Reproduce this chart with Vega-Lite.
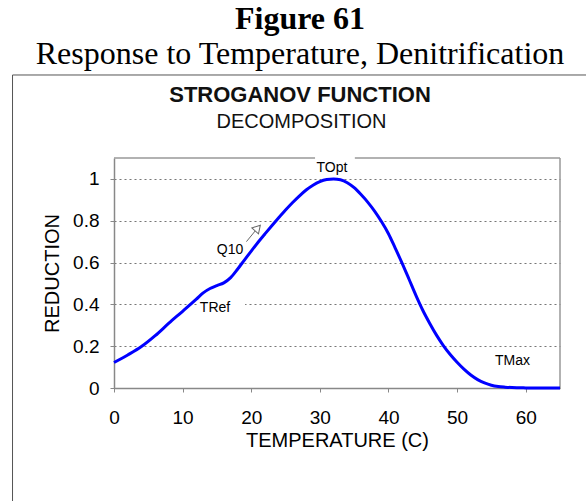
{
  "$schema": "https://vega.github.io/schema/vega-lite/v6.json",
  "width": 446,
  "height": 230,
  "autosize": {"type": "none"},
  "padding": {"left": 114, "top": 158, "right": 26, "bottom": 113},
  "background": "white",
  "config": {"view": {"stroke": null}, "font": "Liberation Sans"},
  "data": {"values": [{"one": 1}]},
  "layer": [
    {
      "mark": {"type": "rect", "fill": "white"},
      "encoding": {
        "x": {"datum": 12.3, "type": "quantitative"},
        "x2": {"datum": 19.1},
        "y": {"datum": 0.39, "type": "quantitative"},
        "y2": {"datum": 0.412}
      }
    },
    {
      "mark": {"type": "rule", "color": "#999999", "strokeWidth": 1.5},
      "encoding": {
        "x": {"datum": 0, "type": "quantitative"},
        "x2": {"datum": 29.3},
        "y": {"datum": 1.1, "type": "quantitative"}
      }
    },
    {
      "mark": {"type": "rule", "color": "#999999", "strokeWidth": 1.5},
      "encoding": {
        "x": {"datum": 35.1, "type": "quantitative"},
        "x2": {"datum": 65},
        "y": {"datum": 1.1, "type": "quantitative"}
      }
    },
    {
      "mark": {"type": "rule", "color": "#999999", "strokeWidth": 1.5},
      "encoding": {
        "x": {"datum": 65, "type": "quantitative"},
        "y": {"datum": 0, "type": "quantitative"},
        "y2": {"datum": 1.1}
      }
    },
    {
      "data": {"values": [
        {"T": 0, "R": 0.122}, {"T": 2, "R": 0.158}, {"T": 4, "R": 0.198},
        {"T": 6, "R": 0.25}, {"T": 8, "R": 0.31}, {"T": 10, "R": 0.367},
        {"T": 12, "R": 0.425}, {"T": 13, "R": 0.455}, {"T": 14, "R": 0.476},
        {"T": 15, "R": 0.49}, {"T": 16, "R": 0.503}, {"T": 17, "R": 0.528},
        {"T": 18, "R": 0.568}, {"T": 19, "R": 0.612}, {"T": 20, "R": 0.655},
        {"T": 21, "R": 0.697}, {"T": 22, "R": 0.737}, {"T": 23, "R": 0.776},
        {"T": 24, "R": 0.814}, {"T": 25, "R": 0.851}, {"T": 26, "R": 0.886},
        {"T": 27, "R": 0.918}, {"T": 28, "R": 0.947}, {"T": 29, "R": 0.97},
        {"T": 30, "R": 0.987}, {"T": 31, "R": 0.997}, {"T": 32, "R": 1.0},
        {"T": 33, "R": 0.996}, {"T": 34, "R": 0.982}, {"T": 35, "R": 0.958},
        {"T": 36, "R": 0.925}, {"T": 37, "R": 0.888}, {"T": 38, "R": 0.845},
        {"T": 39, "R": 0.795}, {"T": 40, "R": 0.738}, {"T": 41, "R": 0.668},
        {"T": 42, "R": 0.596}, {"T": 43, "R": 0.52}, {"T": 44, "R": 0.443},
        {"T": 45, "R": 0.372}, {"T": 46, "R": 0.31}, {"T": 47, "R": 0.253},
        {"T": 48, "R": 0.203}, {"T": 49, "R": 0.16}, {"T": 50, "R": 0.123},
        {"T": 51, "R": 0.09}, {"T": 52, "R": 0.062}, {"T": 53, "R": 0.04},
        {"T": 54, "R": 0.024}, {"T": 55, "R": 0.013}, {"T": 56, "R": 0.007},
        {"T": 57, "R": 0.004}, {"T": 58, "R": 0.002}, {"T": 60, "R": 0.0005},
        {"T": 62, "R": 0}, {"T": 65, "R": 0}
      ]},
      "mark": {"type": "line", "color": "#0000ff", "strokeWidth": 3, "interpolate": "monotone"},
      "encoding": {
        "x": {
          "field": "T", "type": "quantitative",
          "scale": {"domain": [0, 65], "nice": false, "zero": false},
          "axis": {
            "values": [0, 5, 10, 15, 20, 25, 30, 35, 40, 45, 50, 55, 60],
            "labelExpr": "datum.value % 10 === 0 ? datum.label : ''",
            "labelFlush": false,
            "grid": false,
            "domainColor": "#888888", "domainWidth": 1.5,
            "tickColor": "#888888", "tickSize": 4,
            "labelFont": "Liberation Sans", "labelFontSize": 19, "labelColor": "black", "labelPadding": 16,
            "title": "TEMPERATURE (C)",
            "titleFont": "Liberation Sans", "titleFontSize": 20, "titleFontWeight": "normal", "titleColor": "black", "titlePadding": 3
          }
        },
        "y": {
          "field": "R", "type": "quantitative",
          "scale": {"domain": [0, 1.1], "nice": false, "zero": false},
          "axis": {
            "values": [0, 0.1, 0.2, 0.3, 0.4, 0.5, 0.6, 0.7, 0.8, 0.9, 1.0],
            "labelExpr": "round(datum.value * 10) % 2 === 0 ? format(datum.value, '~g') : ''",
            "grid": true,
            "gridDash": [2, 3],
            "gridColor": "#777777",
            "gridWidth": 1.2,
            "gridOpacity": {"condition": {"test": "round(datum.value * 10) % 2 === 1", "value": 0}, "value": 1},
            "domainColor": "#888888", "domainWidth": 1.5,
            "tickColor": "#888888", "tickSize": 4,
            "labelFont": "Liberation Sans", "labelFontSize": 19, "labelColor": "black", "labelPadding": 11,
            "title": "REDUCTION",
            "titleFont": "Liberation Sans", "titleFontSize": 20, "titleFontWeight": "normal", "titleColor": "black", "titlePadding": 10
          }
        }
      }
    },
    {
      "mark": {"type": "text", "fontSize": 14, "color": "black", "baseline": "middle", "align": "center"},
      "encoding": {
        "x": {"datum": 31.77, "type": "quantitative"},
        "y": {"datum": 1.052, "type": "quantitative"},
        "text": {"value": "TOpt"}
      }
    },
    {
      "mark": {"type": "text", "fontSize": 14, "color": "black", "baseline": "middle", "align": "center"},
      "encoding": {
        "x": {"datum": 14.72, "type": "quantitative"},
        "y": {"datum": 0.385, "type": "quantitative"},
        "text": {"value": "TRef"}
      }
    },
    {
      "mark": {"type": "text", "fontSize": 14, "color": "black", "baseline": "middle", "align": "center"},
      "encoding": {
        "x": {"datum": 16.91, "type": "quantitative"},
        "y": {"datum": 0.66, "type": "quantitative"},
        "text": {"value": "Q10"}
      }
    },
    {
      "mark": {"type": "text", "fontSize": 14, "color": "black", "baseline": "middle", "align": "center"},
      "encoding": {
        "x": {"datum": 58.08, "type": "quantitative"},
        "y": {"datum": 0.129, "type": "quantitative"},
        "text": {"value": "TMax"}
      }
    },
    {
      "mark": {"type": "rule", "color": "#666666", "strokeWidth": 1},
      "encoding": {
        "x": {"datum": 19.3, "type": "quantitative"},
        "x2": {"datum": 20.6},
        "y": {"datum": 0.7, "type": "quantitative"},
        "y2": {"datum": 0.752}
      }
    },
    {
      "mark": {"type": "point", "shape": "triangle-up", "angle": 42, "size": 80, "filled": false, "stroke": "#666666", "strokeWidth": 1, "fill": "white", "fillOpacity": 1},
      "encoding": {
        "x": {"datum": 20.95, "type": "quantitative"},
        "y": {"datum": 0.765, "type": "quantitative"}
      }
    },
    {
      "mark": {"type": "text", "font": "Liberation Serif", "fontSize": 32, "fontWeight": "bold", "color": "black", "baseline": "alphabetic", "align": "center"},
      "encoding": {
        "x": {"datum": 27.11, "type": "quantitative"},
        "y": {"datum": 1.717, "type": "quantitative"},
        "text": {"value": "Figure 61"}
      }
    },
    {
      "mark": {"type": "text", "font": "Liberation Serif", "fontSize": 32, "color": "black", "baseline": "alphabetic", "align": "center"},
      "encoding": {
        "x": {"datum": 27.11, "type": "quantitative"},
        "y": {"datum": 1.55, "type": "quantitative"},
        "text": {"value": "Response to Temperature, Denitrification"}
      }
    },
    {
      "mark": {"type": "text", "font": "Liberation Sans", "fontSize": 22, "fontWeight": "bold", "color": "#111111", "baseline": "alphabetic", "align": "center"},
      "encoding": {
        "x": {"datum": 27.11, "type": "quantitative"},
        "y": {"datum": 1.368, "type": "quantitative"},
        "text": {"value": "STROGANOV FUNCTION"}
      }
    },
    {
      "mark": {"type": "text", "font": "Liberation Sans", "fontSize": 20, "color": "#111111", "baseline": "alphabetic", "align": "center"},
      "encoding": {
        "x": {"datum": 27.33, "type": "quantitative"},
        "y": {"datum": 1.243, "type": "quantitative"},
        "text": {"value": "DECOMPOSITION"}
      }
    },
    {
      "mark": {"type": "rule", "color": "#555555", "strokeWidth": 1},
      "encoding": {
        "x": {"datum": -14.79, "type": "quantitative"},
        "y": {"datum": 1.497, "type": "quantitative"},
        "y2": {"datum": -0.6}
      }
    },
    {
      "mark": {"type": "rule", "color": "#555555", "strokeWidth": 1},
      "encoding": {
        "x": {"datum": -14.79, "type": "quantitative"},
        "x2": {"datum": 70},
        "y": {"datum": 1.497, "type": "quantitative"}
      }
    }
  ]
}
